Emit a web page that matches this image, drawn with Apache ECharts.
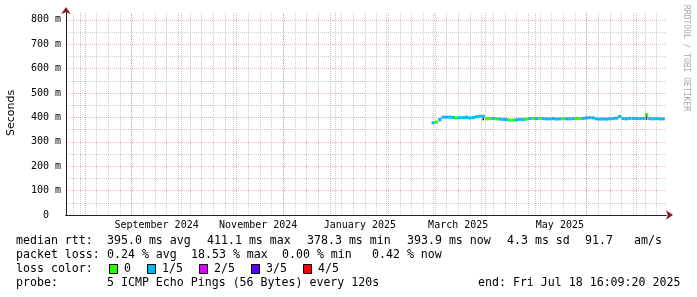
<!DOCTYPE html>
<html><head><meta charset="utf-8">
<script src="https://cdn.jsdelivr.net/npm/echarts@6/dist/echarts.min.js"></script>
<style>html,body{margin:0;padding:0;background:#fff}#c{width:697px;height:297px}</style>
</head><body><div id="c"></div>
<script>
// ---------- data ----------
const endTimeStr = '2025-07-18T16:09:20Z';
const spanDays = 360;
const yTicks = [0, 100, 200, 300, 400, 500, 600, 700, 800];
const yMaxMs = 828;
const monthStarts = ['2024-08-01','2024-09-01','2024-10-01','2024-11-01','2024-12-01','2025-01-01',
  '2025-02-01','2025-03-01','2025-04-01','2025-05-01','2025-06-01','2025-07-01'];
const monthLabels = ['September 2024','November 2024','January 2025','March 2025','May 2025'];
const monthLabelStarts = ['2024-09-01','2024-11-01','2025-01-01','2025-03-01','2025-05-01'];
const labelCenterDays = 15;
const firstWeekLine = '2024-07-28';
const sampleStart = '2025-02-28';
const sampleDays = 2;
const medianMs = [378,381,392,401,401,401,400,398,399,399,400,398,399,403,405,405,394,395,396,394,
  393,392,391,389,389,390,392,391,393,395,396,395,396,395,394,394,395,393,394,395,
  394,394,395,396,395,396,398,399,398,394,393,394,393,394,395,397,403,395,394,396,
  396,395,395,396,411,395,394,395,394,394];
const lossIdx = [1,0,1,1,1,1,1,0,1,1,1,1,1,1,1,1,0,0,1,0,
  1,1,1,0,0,1,1,1,0,1,0,1,0,1,1,1,1,1,1,0,
  1,1,1,0,0,1,1,1,1,1,1,1,1,1,1,1,1,1,1,1,
  1,1,1,1,0,1,1,1,1,1];
// smoke spikes: [sample index, low ms, high ms]
const smoke = [[2,384,396],[10,399,407],[15,388,399],[48,397,402],[56,399,410],[64,390,407]];
const lossNames = ['0','1/5','2/5','3/5','4/5'];
const lossColors = ['#26ff00','#00b8ff','#dd00ff','#5e00ff','#ff0000'];
const yTitle = 'Seconds';
const watermark = 'RRDTOOL / TOBI OETIKER';
const rttParts = ['median rtt:', '395.0 ms avg', '411.1 ms max', '378.3 ms min', '393.9 ms now', '4.3 ms sd', '91.7', 'am/s'];
const lossParts = ['packet loss:', '0.24 % avg', '18.53 % max', '0.00 % min', '0.42 % now'];
const lineColorTitle = 'loss color:';
const probeParts = ['probe:', '5 ICMP Echo Pings (56 Bytes) every 120s'];
const lineEnd = 'end: Fri Jul 18 16:09:20 2025';

// ---------- build ----------
const DAY = 86400000;
const endTime = Date.parse(endTimeStr);
const xMin = endTime - spanDays * DAY;
const toT = s => Date.parse(s + 'T00:00:00Z');
const monthTimes = monthStarts.map(toT);
const labelTimes = monthLabelStarts.map(s => toT(s) + labelCenterDays * DAY);
const labelMap = {};
labelTimes.forEach((t, i) => labelMap[t] = monthLabels[i]);
const weekTimes = [];
for (let t = toT(firstWeekLine); t < endTime; t += 7 * DAY) weekTimes.push(t);
const step = sampleDays * DAY;
const t0 = toT(sampleStart);
const medData = medianMs.map((v, i) => [t0 + i * step, v, lossIdx[i]]);
const smokeData = smoke.map(s => [t0 + s[0] * step + step / 4, s[1], s[2]]);

const MONO = 'DejaVu Sans Mono';
const gridCol = 'rgba(143,143,143,0.45)';
const mgridCol = 'rgba(222,79,79,0.42)';
const axisCol = '#1f1f1f';
const arrowCol = '#801f1f';

const baseX = { type: 'value', min: xMin, max: endTime, position: 'bottom', gridIndex: 0 };
const baseY = { type: 'value', min: 0, max: yMaxMs, position: 'left', gridIndex: 0 };
const none = { show: false };

const chart = echarts.init(document.getElementById('c'), null, { renderer: 'canvas' });
const graphic = [];
graphic.push({ type: 'text', x: 11, y: 113, rotation: Math.PI / 2,
  style: { text: yTitle, font: '11px "DejaVu Sans"', fill: '#000', align: 'center', verticalAlign: 'middle' } });
graphic.push({ type: 'text', x: 686, y: 5, rotation: -Math.PI / 2,
  style: { text: watermark, font: '8px "DejaVu Sans Mono"', fill: '#a8a8a8', align: 'left', verticalAlign: 'middle' } });
const rows = [241, 255, 269, 283];
const legFont = '11.6px "DejaVu Sans Mono"';
function txt(s, x, y) {
  graphic.push({ type: 'text', x: x, y: y, style: { text: s, font: legFont, fill: '#000', verticalAlign: 'middle' } });
}
const rttX = [16, 107, 207, 307, 407, 507, 585, 634];
rttParts.forEach((s, i) => txt(s, rttX[i], rows[0]));
const lossX = [16, 107, 191, 282, 372];
lossParts.forEach((s, i) => txt(s, lossX[i], rows[1]));
txt(lineColorTitle, 16, rows[2]);
txt(probeParts[0], 16, rows[3]);
txt(probeParts[1], 107, rows[3]);
txt(lineEnd, 478, rows[3]);
let bx = 109;
lossNames.forEach((n, i) => {
  graphic.push({ type: 'rect', shape: { x: bx + 0.5, y: rows[2] - 4.5, width: 8, height: 9 },
    style: { fill: lossColors[i], stroke: '#000', lineWidth: 1 } });
  txt(n, bx + 15, rows[2]);
  bx += 16 + n.length * 7 + 15;
});

chart.setOption({
  animation: false,
  backgroundColor: '#fff',
  grid: { left: 66, top: 13, width: 600, bottom: 82, containLabel: false },
  xAxis: [
    Object.assign({}, baseX, { z: 0, axisLine: none, axisTick: { show: false, customValues: weekTimes }, axisLabel: none,
      splitLine: { show: true, lineStyle: { color: gridCol, type: [1, 1], width: 1 } } }),
    Object.assign({}, baseX, { z: 0, axisLine: none, axisTick: { show: false, customValues: monthTimes }, axisLabel: none,
      splitLine: { show: true, lineStyle: { color: mgridCol, type: [1, 1], width: 1 } } }),
    Object.assign({}, baseX, { z: 1, axisLine: { show: true, onZero: false, symbol: ['none', 'arrow'], symbolSize: [7, 7], symbolOffset: [0, 7],
        lineStyle: { color: arrowCol, width: 1 } }, axisTick: none, axisLabel: none, splitLine: none }),
    Object.assign({}, baseX, { z: 5, axisLine: { show: true, onZero: false, lineStyle: { color: axisCol, width: 1 } }, axisTick: none,
      axisLabel: { show: true, customValues: labelTimes, formatter: v => labelMap[v] || '', margin: 5,
        fontFamily: MONO, fontSize: 10, color: '#000', hideOverlap: false }, splitLine: none })
  ],
  yAxis: [
    Object.assign({}, baseY, { z: 5, interval: 100,
      axisLine: { show: true, onZero: false, lineStyle: { color: axisCol, width: 1 } }, axisTick: none,
      axisLabel: { show: true, showMaxLabel: false, margin: 5, fontFamily: MONO, fontSize: 10, color: '#000',
        formatter: v => (yTicks.indexOf(v) < 0 ? '' : (v === 0 ? '0  ' : v + ' m')) },
      splitLine: { show: true, showMaxLine: false, showMinLine: false, lineStyle: { color: mgridCol, type: [1, 1], width: 1 } },
      minorTick: { show: false, splitNumber: 2 },
      minorSplitLine: { show: true, lineStyle: { color: gridCol, type: [1, 1], width: 1 } } }),
    Object.assign({}, baseY, { z: 1, axisLine: { show: true, onZero: false, symbol: ['none', 'arrow'], symbolSize: [7, 7], symbolOffset: [0, 6],
        lineStyle: { color: arrowCol, width: 1 } }, axisTick: none, axisLabel: none, splitLine: none })
  ],
  graphic: graphic,
  series: [
    { type: 'custom', name: 'smoke', xAxisIndex: 0, yAxisIndex: 0, data: smokeData, encode: { x: 0, y: [1, 2] }, z: 2,
      renderItem: (params, api) => {
        const a = api.coord([api.value(0), api.value(1)]);
        const b = api.coord([api.value(0) + step / 2, api.value(2)]);
        return { type: 'rect', shape: { x: a[0], y: b[1], width: b[0] - a[0], height: a[1] - b[1] }, style: { fill: '#333' } };
      } },
    { type: 'custom', name: 'median', xAxisIndex: 0, yAxisIndex: 0, data: medData, encode: { x: 0, y: 1 }, z: 3,
      renderItem: (params, api) => {
        const a = api.coord([api.value(0), api.value(1)]);
        const b = api.coord([api.value(0) + step, api.value(1)]);
        return { type: 'rect', shape: { x: a[0], y: a[1] - 1.5, width: b[0] - a[0], height: 3 },
          style: { fill: lossColors[api.value(2)] } };
      } }
  ]
});
</script></body></html>
